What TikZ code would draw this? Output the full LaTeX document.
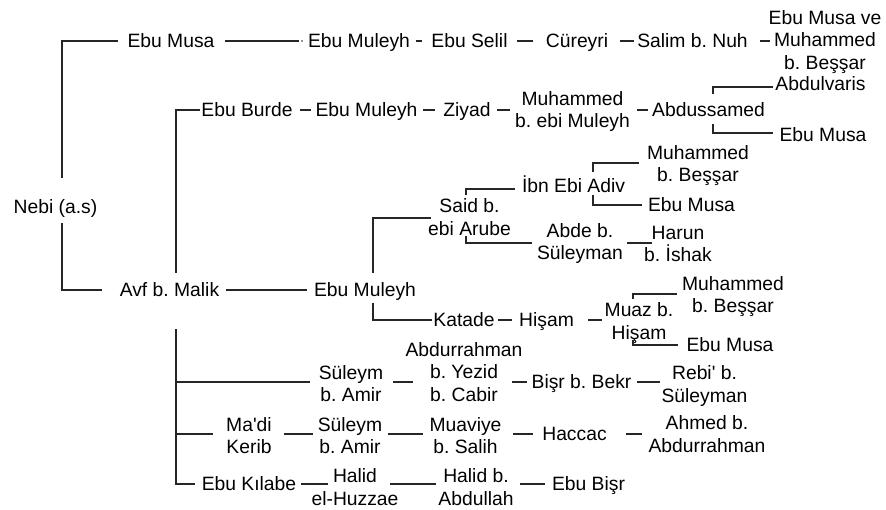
\documentclass[tikz,border=0pt]{standalone}
\usepackage{fontspec}
\setmainfont{Liberation Sans}[Ligatures=TeXOff]
\frenchspacing
\tikzset{
  every node/.style={inner sep=0pt, outer sep=0pt, font=\fontsize{19.3}{22.8}\selectfont},
  lbl/.style={text height=13.9pt, text depth=0pt},
  ml/.style={align=center},
  conn/.style={line width=1.2pt, draw=black!85},
}
\begin{document}
\begin{tikzpicture}[x=1pt,y=-1pt]
\useasboundingbox (0,0) rectangle (886,509);
% nodes
\node[lbl] (nebi) at (55.5,207) {Nebi (a.s)};
\node[lbl] (em1) at (171,41) {Ebu Musa};
\node[lbl] (eml1) at (359,41) {Ebu Muleyh};
\node[lbl] (es) at (469.5,41) {Ebu Selil};
\node[lbl] (cu) at (577,41) {Cüreyri};
\node[lbl] (sal) at (692.5,41) {Salim b. Nuh};
\node[ml] (emve) at (825,42) {Ebu Musa ve\\Muhammed\\b. Beşşar};

\node[lbl] (eb) at (247,110) {Ebu Burde};
\node[lbl] (eml2) at (366.5,110) {Ebu Muleyh};
\node[lbl] (zi) at (467,110) {Ziyad};
\node[ml] (mebi) at (572.5,111.5) {Muhammed\\b. ebi Muleyh};
\node[lbl] (abs) at (708.5,110) {Abdussamed};
\node[lbl] (abv) at (820.5,84) {Abdulvaris};
\node[lbl] (em2) at (823,135) {Ebu Musa};

\node[lbl] (avf) at (169.5,290) {Avf b. Malik};
\node[lbl] (eml3) at (365,290) {Ebu Muleyh};
\node[ml] (said) at (469.5,217) {Said b.\\ebi Arube};
\node[lbl] (ibn) at (573.5,186) {İbn Ebi Adiv};
\node[ml] (mb1) at (698,165.5) {Muhammed\\b. Beşşar};
\node[lbl] (em3) at (691.5,205) {Ebu Musa};
\node[ml] (abde) at (580,243.5) {Abde b.\\Süleyman};
\node[ml] (har) at (678,244) {Harun\\b. İshak};

\node[lbl] (kat) at (464,320) {Katade};
\node[lbl] (his) at (546.5,320) {Hişam};
\node[ml] (muaz) at (639,323) {Muaz b.\\Hişam};
\node[ml] (mb2) at (733,296.5) {Muhammed\\b. Beşşar};
\node[lbl] (em4) at (730,345) {Ebu Musa};

\node[ml] (sul1) at (351,383.5) {Süleym\\b. Amir};
\node[ml] (abd) at (464,372) {Abdurrahman\\b. Yezid\\b. Cabir};
\node[lbl] (bis) at (581.5,382) {Bişr b. Bekr};
\node[ml] (reb) at (704.5,386) {Rebi' b.\\Süleyman};

\node[ml] (madi) at (249,435.5) {Ma'di\\Kerib};
\node[ml] (sul2) at (350,435.5) {Süleym\\b. Amir};
\node[ml] (mua) at (465.5,435.5) {Muaviye\\b. Salih};
\node[lbl] (hac) at (574.5,434) {Haccac};
\node[ml] (ahm) at (707,434) {Ahmed b.\\Abdurrahman};

\node[lbl] (kil) at (249,484) {Ebu Kılabe};
\node[ml] (hal1) at (355,487) {Halid\\el-Huzzae};
\node[ml] (hal2) at (476,487) {Halid b.\\Abdullah};
\node[lbl] (ebis) at (588.5,484) {Ebu Bişr};

% connectors
\draw[conn] ([shift={(6.5,-29)}]nebi.center) |- ([shift={(-53,0)}]em1.center);
\draw[conn] ([shift={(6.5,16)}]nebi.center) |- ([shift={(-67.5,0)}]avf.center);
\draw[conn] ([shift={(54,0)}]em1.center) -- ([shift={(-60,0)}]eml1.center);
\fill[black!85] ([shift={(-57,0)}]eml1.center) circle (0.8);
\draw[conn] ([shift={(57,0)}]eml1.center) -- ([shift={(-47.5,0)}]es.center);
\draw[conn] ([shift={(47.5,0)}]es.center) -- ([shift={(-44,0)}]cu.center);
\draw[conn] ([shift={(43,0)}]cu.center) -- ([shift={(-58.5,0)}]sal.center);
\draw[conn] ([shift={(67,0)}]sal.center) -- ([shift={(-55,-1)}]emve.center);

\draw[conn] ([shift={(6.5,-17)}]avf.center) |- ([shift={(-47,0)}]eb.center);
\draw[conn] ([shift={(53,0)}]eb.center) -- ([shift={(-55.5,0)}]eml2.center);
\draw[conn] ([shift={(56.5,0)}]eml2.center) -- ([shift={(-32,0)}]zi.center);
\draw[conn] ([shift={(30,0)}]zi.center) -- ([shift={(-62.5,-1.5)}]mebi.center);
\draw[conn] ([shift={(64.5,-1.5)}]mebi.center) -- ([shift={(-60.5,0)}]abs.center);
\draw[conn] ([shift={(4.5,-16)}]abs.center) |- ([shift={(-47.5,3)}]abv.center);
\draw[conn] ([shift={(4.5,14)}]abs.center) |- ([shift={(-50,-2)}]em2.center);

\draw[conn] ([shift={(56.5,0)}]avf.center) -- ([shift={(-58,0)}]eml3.center);
\draw[conn] ([shift={(8,-17)}]eml3.center) |- ([shift={(-38.5,1)}]said.center);
\draw[conn] ([shift={(8,13)}]eml3.center) |- ([shift={(-32,0)}]kat.center);
\draw[conn] ([shift={(-3.5,-22)}]said.center) |- ([shift={(-58.5,3)}]ibn.center);
\draw[conn] ([shift={(-3.5,19)}]said.center) |- ([shift={(-48,-0.5)}]abde.center);
\draw[conn] ([shift={(47,-0.5)}]abde.center) -- ([shift={(-26,-1)}]har.center);
\draw[conn] ([shift={(19.5,-14)}]ibn.center) |- ([shift={(-59,-2.5)}]mb1.center);
\draw[conn] ([shift={(19.5,9)}]ibn.center) |- ([shift={(-49.5,0)}]em3.center);
\draw[conn] ([shift={(34,0)}]kat.center) -- ([shift={(-34.5,0)}]his.center);
\draw[conn] ([shift={(41.5,0)}]his.center) -- ([shift={(-37,-3)}]muaz.center);
\draw[conn] ([shift={(-6,-24)}]muaz.center) |- ([shift={(-56,-2.5)}]mb2.center);
\draw[conn] ([shift={(-6,17)}]muaz.center) |- ([shift={(-52,0)}]em4.center);

\draw[conn] ([shift={(6.5,39)}]avf.center) |- ([shift={(-41,-1.5)}]sul1.center);
\draw[conn] ([shift={(6.5,39)}]avf.center) |- ([shift={(-36,-1.5)}]madi.center);
\draw[conn] ([shift={(6.5,39)}]avf.center) |- ([shift={(-54,0)}]kil.center);
\draw[conn] ([shift={(42,-1.5)}]sul1.center) -- ([shift={(-51,10)}]abd.center);
\draw[conn] ([shift={(48,10)}]abd.center) -- ([shift={(-54.5,0)}]bis.center);
\draw[conn] ([shift={(55.5,0)}]bis.center) -- ([shift={(-44.5,-4)}]reb.center);
\draw[conn] ([shift={(35,-1.5)}]madi.center) -- ([shift={(-37,-1.5)}]sul2.center);
\draw[conn] ([shift={(38,-1.5)}]sul2.center) -- ([shift={(-42.5,-1.5)}]mua.center);
\draw[conn] ([shift={(47.5,-1.5)}]mua.center) -- ([shift={(-41.5,0)}]hac.center);
\draw[conn] ([shift={(51.5,0)}]hac.center) -- ([shift={(-65,0)}]ahm.center);
\draw[conn] ([shift={(52,0)}]kil.center) -- ([shift={(-27,-3)}]hal1.center);
\draw[conn] ([shift={(35,-3)}]hal1.center) -- ([shift={(-40,-3)}]hal2.center);
\draw[conn] ([shift={(44,-3)}]hal2.center) -- ([shift={(-43.5,0)}]ebis.center);
\end{tikzpicture}
\end{document}
